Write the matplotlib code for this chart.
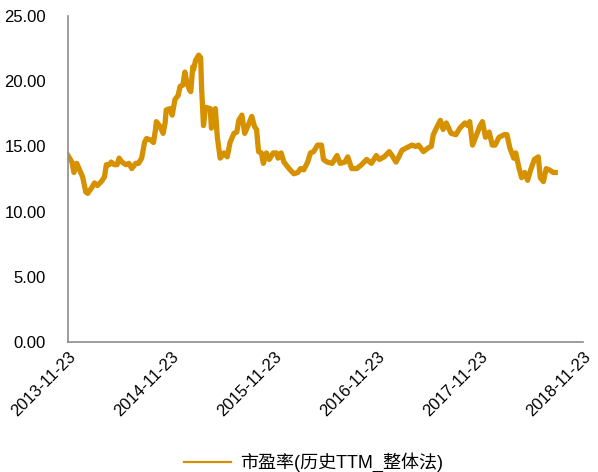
import matplotlib
matplotlib.use("Agg")
import matplotlib.pyplot as plt
from matplotlib.lines import Line2D
import pandas as pd

# PE ratio (historical TTM, aggregate method)
dates = [
    "2013-11-23", "2013-12-07", "2013-12-14", "2013-12-24", "2014-01-07", "2014-01-14",
    "2014-01-25", "2014-02-01", "2014-02-14", "2014-02-25", "2014-03-07", "2014-03-21",
    "2014-04-01", "2014-04-08", "2014-04-18", "2014-04-25", "2014-05-06", "2014-05-16",
    "2014-05-23", "2014-06-02", "2014-06-16", "2014-06-27", "2014-07-07", "2014-07-21",
    "2014-07-31", "2014-08-11", "2014-08-21", "2014-08-28", "2014-09-11", "2014-09-22",
    "2014-09-29", "2014-10-02", "2014-10-16", "2014-10-26", "2014-11-02", "2014-11-06",
    "2014-11-20", "2014-11-27", "2014-12-07", "2014-12-18", "2014-12-25", "2015-01-04",
    "2015-01-11", "2015-01-18", "2015-01-28", "2015-02-01", "2015-02-08", "2015-02-11",
    "2015-02-18", "2015-03-01", "2015-03-08", "2015-03-11", "2015-03-18", "2015-03-25",
    "2015-04-11", "2015-04-15", "2015-04-29", "2015-05-06", "2015-05-16", "2015-05-30",
    "2015-06-10", "2015-06-20", "2015-07-04", "2015-07-14", "2015-07-21", "2015-08-01",
    "2015-08-11", "2015-08-25", "2015-09-05", "2015-09-15", "2015-09-22", "2015-09-29",
    "2015-10-09", "2015-10-16", "2015-10-27", "2015-11-06", "2015-11-20", "2015-12-01",
    "2015-12-07", "2015-12-18", "2015-12-28", "2016-01-15", "2016-02-01", "2016-02-15",
    "2016-02-25", "2016-03-07", "2016-03-21", "2016-03-31", "2016-04-11", "2016-04-25",
    "2016-05-09", "2016-05-16", "2016-05-29", "2016-06-16", "2016-07-03", "2016-07-14",
    "2016-07-31", "2016-08-10", "2016-08-24", "2016-09-11", "2016-09-28", "2016-10-16",
    "2016-11-02", "2016-11-19", "2016-11-30", "2016-12-17", "2017-01-04", "2017-01-14",
    "2017-01-28", "2017-02-07", "2017-02-18", "2017-03-07", "2017-03-25", "2017-04-08",
    "2017-04-18", "2017-05-05", "2017-05-23", "2017-06-02", "2017-06-09", "2017-06-20",
    "2017-07-04", "2017-07-14", "2017-07-25", "2017-08-11", "2017-08-28", "2017-09-11",
    "2017-09-29", "2017-10-09", "2017-10-16", "2017-10-26", "2017-11-06", "2017-11-20",
    "2017-11-30", "2017-12-11", "2017-12-24", "2018-01-04", "2018-01-14", "2018-01-28",
    "2018-02-15", "2018-02-25", "2018-03-07", "2018-03-21", "2018-03-28", "2018-04-08",
    "2018-04-18", "2018-04-29", "2018-05-09", "2018-05-20", "2018-06-02", "2018-06-16",
    "2018-06-23", "2018-07-04", "2018-07-14", "2018-07-25", "2018-08-08", "2018-08-15",
]
pe = [
    14.3, 13.8, 13.0, 13.7, 13.0, 12.65,
    11.5, 11.4, 11.8, 12.2, 12.0, 12.3,
    12.65, 13.6, 13.6, 13.8, 13.6, 13.6,
    14.1, 13.8, 13.6, 13.7, 13.3, 13.7,
    13.7, 14.1, 15.3, 15.6, 15.5, 15.3,
    16.3, 16.9, 16.5, 16.0, 16.8, 17.8,
    17.9, 17.4, 18.6, 18.9, 19.6, 19.7,
    20.7, 19.9, 19.3, 19.2, 21.1, 20.9,
    21.6, 22.0, 21.8, 19.6, 16.6, 18.0,
    17.9, 16.4, 17.9, 15.7, 14.1, 14.5,
    14.2, 15.3, 16.0, 16.1, 17.0, 17.4,
    16.0, 16.7, 17.3, 16.5, 16.3, 14.6,
    14.5, 13.7, 14.5, 14.0, 14.5, 14.5,
    14.1, 14.5, 13.8, 13.3, 12.9, 13.0,
    13.3, 13.2, 13.8, 14.5, 14.6, 15.1,
    15.1, 14.0, 13.8, 13.7, 14.3, 13.7,
    13.8, 14.2, 13.3, 13.3, 13.6, 14.0,
    13.7, 14.3, 14.0, 14.2, 14.6, 14.3,
    13.8, 14.2, 14.7, 14.9, 15.1, 15.0,
    15.1, 14.6, 14.9, 15.0, 15.9, 16.4,
    17.0, 16.3, 16.8, 16.0, 15.9, 16.4,
    16.8, 16.6, 16.9, 15.1, 15.7, 16.5,
    16.9, 15.7, 16.1, 15.1, 15.1, 15.7,
    15.9, 15.9, 14.9, 14.1, 14.5, 13.4,
    12.6, 13.0, 12.4, 13.2, 14.0, 14.2,
    12.6, 12.3, 13.3, 13.2, 13.0, 13.0,
]
tick_dates = ["2013-11-23", "2014-11-23", "2015-11-23", "2016-11-23", "2017-11-23", "2018-11-23"]
y_ticks = [0, 5, 10, 15, 20, 25]
series_name = "市盈率(历史TTM_整体法)"

line_color = "#D69100"
plt.rcParams["font.family"] = ["Liberation Sans", "Noto Sans CJK SC", "DejaVu Sans"]

x = pd.to_datetime(dates)
ticks = pd.to_datetime(tick_dates)

fig = plt.figure(figsize=(5.98, 4.72), dpi=100)
ax = fig.add_axes([0.1137, 0.2754, 0.862, 0.6907])

ax.plot(x, pe, color=line_color, linewidth=3.8, solid_joinstyle="round")

ax.set_xlim(ticks[0], ticks[-1])
ax.set_ylim(0, 25)
ax.set_xticks(ticks)
ax.set_xticklabels(tick_dates, rotation=45, ha="right", rotation_mode="anchor", fontsize=12)
ax.set_yticks(y_ticks)
ax.set_yticklabels([f"{v:.2f}" for v in y_ticks], fontsize=12)
ax.tick_params(axis="both", length=0, colors="black")
ax.tick_params(axis="y", pad=16)
ax.tick_params(axis="x", pad=5)

for s in ["top", "right"]:
    ax.spines[s].set_visible(False)
for s in ["left", "bottom"]:
    ax.spines[s].set_color("#8C8C8C")
    ax.spines[s].set_linewidth(1.2)

handle = Line2D([], [], color=line_color, linewidth=1.6)
fig.legend([handle], [series_name], loc="center", bbox_to_anchor=(0.525, 0.02),
           frameon=False, fontsize=13, handlelength=2.6, handletextpad=0.5)

fig.savefig("out.png", dpi=100)
